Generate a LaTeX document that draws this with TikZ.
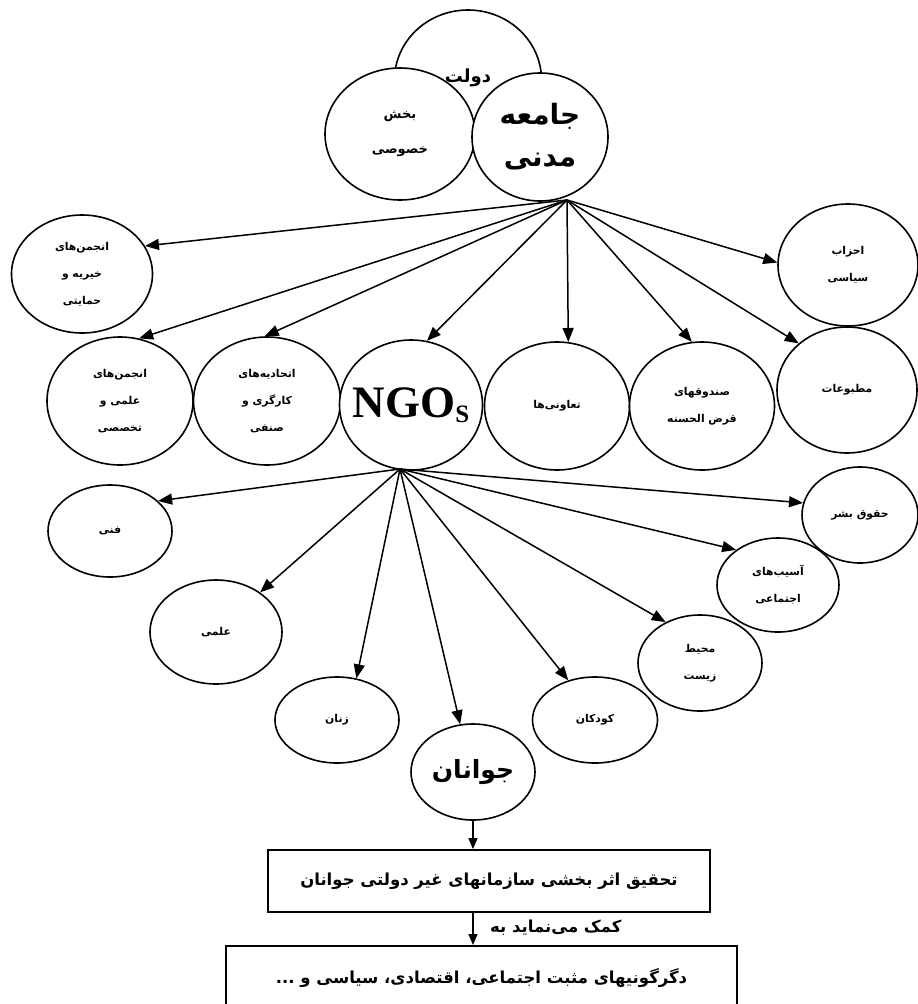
\documentclass[tikz,border=0pt]{standalone}
\usepackage{fontspec}
\usetikzlibrary{shapes.geometric,arrows.meta}
\TeXXeTstate=1
\newfontfamily\fa[Script=Arabic]{DejaVu Sans}
\newfontfamily\tnr{Liberation Serif}
\newcommand\rl[1]{\beginR#1\endR}
\begin{document}
\begin{tikzpicture}[x=1pt,y=-1pt,
  circ/.style={ellipse, draw, line width=1.6pt, fill=white, inner sep=0pt, align=center,
    font=\fa\bfseries\fontsize{10.8}{27}\selectfont},
  arr/.style={line width=1.5pt, -{Triangle[length=14pt,width=11pt]}},
  arrs/.style={line width=1.3pt, -{Triangle[length=11pt,width=9pt]}},
  box/.style={draw, line width=1.8pt, inner sep=0pt, font=\fa\bfseries\fontsize{16.5}{20}\selectfont},
]
\useasboundingbox (0,0) rectangle (918,1004);
\clip (0,0) rectangle (918,1004);
% top cluster
\node[circ, minimum width=147pt, minimum height=140pt, font=\fa\bfseries\fontsize{18}{20}\selectfont] (dolat) at (468,80) {\raisebox{9pt}{\rl{دولت}}};
\node[circ, minimum width=150pt, minimum height=132pt, font=\fa\bfseries\fontsize{13}{35}\selectfont] (bakhsh) at (400,134) {\rl{بخش}\\\rl{خصوصی}};
\node[circ, minimum width=136pt, minimum height=128pt, font=\fa\bfseries\fontsize{28}{42}\selectfont] (jameh) at (540,137) {\rl{جامعه}\\\rl{مدنی}};
% first level
\node[circ, minimum width=141pt, minimum height=118pt] (khayr) at (82,274) {\rl{انجمن^^^^200cهای}\\\rl{خیریه و}\\\rl{حمایتی}};
\node[circ, minimum width=140pt, minimum height=122pt] (ahzab) at (848,265) {\rl{احزاب}\\\rl{سیاسی}};
\node[circ, minimum width=146pt, minimum height=128pt] (elmit) at (120,401) {\rl{انجمن^^^^200cهای}\\\rl{علمی و}\\\rl{تخصصی}};
\node[circ, minimum width=147pt, minimum height=128pt] (etteh) at (267,401) {\rl{اتحادیه^^^^200cهای}\\\rl{کارگری و}\\\rl{صنفی}};
\node[circ, minimum width=143pt, minimum height=130pt, inner sep=-12pt] (ngo) at (411,405) {{\tnr\bfseries\fontsize{45}{45}\selectfont NGO}{\tnr\fontsize{25}{25}\selectfont\raisebox{-5pt}{S}}};
\node[circ, minimum width=145pt, minimum height=128pt] (taav) at (557,406) {\rl{تعاونی^^^^200cها}};
\node[circ, minimum width=145pt, minimum height=128pt] (sand) at (702,406) {\rl{صندوقهای}\\\rl{قرض الحسنه}};
\node[circ, minimum width=140pt, minimum height=126pt] (matb) at (847,390) {\rl{مطبوعات}};
% NGO children
\node[circ, minimum width=124pt, minimum height=92pt] (fanni) at (110,531) {\rl{فنی}};
\node[circ, minimum width=132pt, minimum height=104pt] (elmi) at (216,632) {\rl{علمی}};
\node[circ, minimum width=124pt, minimum height=86pt] (zanan) at (337,720) {\rl{زنان}};
\node[circ, minimum width=124pt, minimum height=96pt, font=\fa\bfseries\fontsize{25}{30}\selectfont] (javan) at (473,772) {\rl{جوانان}};
\node[circ, minimum width=125pt, minimum height=86pt] (kudak) at (595,720) {\rl{کودکان}};
\node[circ, minimum width=124pt, minimum height=96pt] (mohit) at (700,663) {\rl{محیط}\\\rl{زیست}};
\node[circ, minimum width=122pt, minimum height=94pt] (asib) at (778,585) {\rl{آسیب^^^^200cهای}\\\rl{اجتماعی}};
\node[circ, minimum width=116pt, minimum height=96pt] (hoquq) at (860,515) {\rl{حقوق بشر}};
% arrows
\coordinate (jmout) at (567,200);
\foreach \n/\a in {khayr/24, elmit/73, etteh/92, ngo/76, taav/80, sand/99, matb/136, ahzab/178}
  \draw[arr] (jmout) -- (\n.\a);
\coordinate (ngout) at (400,469);
\foreach \n/\a in {fanni/32, elmi/42, zanan/65, javan/105, kudak/124, mohit/130, asib/140, hoquq/168}
  \draw[arr] (ngout) -- (\n.\a);
% bottom
\node[box, minimum width=442pt, minimum height=62pt] (b1) at (489,881) {\rl{تحقیق اثر بخشی سازمانهای غیر دولتی جوانان}};
\node[box, minimum width=511pt, minimum height=64pt, anchor=north] (b2) at (481.5,945) {\rl{دگرگونیهای مثبت اجتماعی، اقتصادی، سیاسی و ...}};
\node[font=\fa\bfseries\fontsize{16.5}{20}\selectfont, anchor=west, inner sep=0pt] (lbl) at (490,928) {\rl{کمک می^^^^200cنماید به}};
\draw[arrs] (javan.south) -- (javan.south |- b1.north);
\draw[arrs] (b1.south -| javan.south) -- (b2.north -| javan.south);
\end{tikzpicture}
\end{document}
